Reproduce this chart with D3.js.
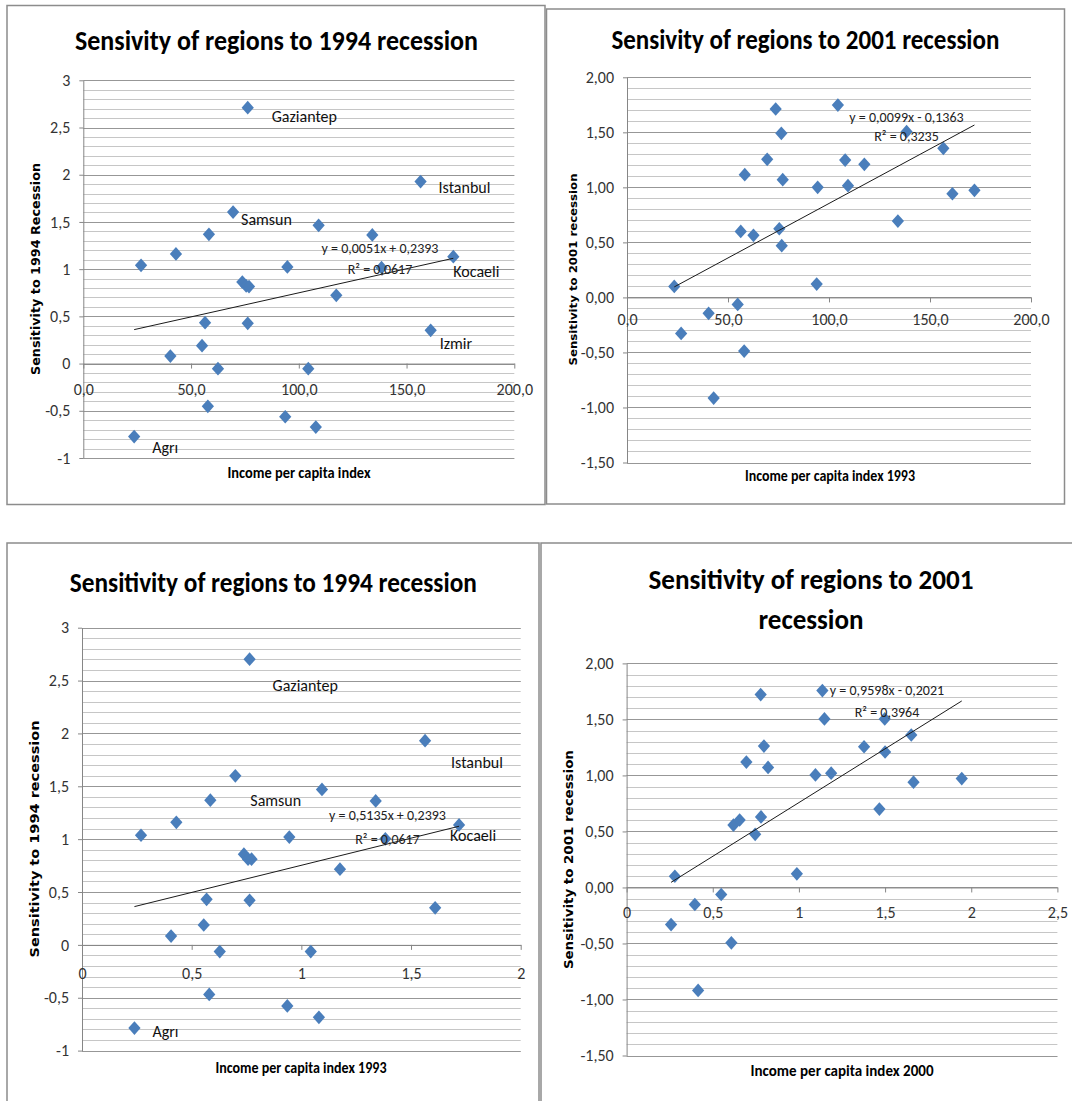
<!DOCTYPE html>
<html>
<head>
<meta charset="utf-8">
<title>Sensivity of regions to 1994 and 2001 recessions</title>
<script src="https://cdn.jsdelivr.net/npm/d3@7"></script>
<style>
  body { margin: 0; background: #fff; }
  text { font-family: Carlito, "Liberation Sans Narrow", "Open Sans", sans-serif; }
  .vt { font-family: "DejaVu Sans", Verdana, sans-serif; font-weight: bold; }
</style>
</head>
<body>
<script>
// ---- data ----
// top left: 1994 sensitivity vs income per capita index (0-200)
var incomeA = [76.3, 156.5, 69.5, 109.2, 134.1, 58.3, 43.0, 26.8, 171.7, 94.7, 138.4, 73.8, 75.6,
               76.9, 117.4, 56.5, 76.3, 161.2, 55.1, 40.4, 62.5, 104.4, 57.8, 93.7, 107.9, 23.6];
var sensA = [2.71, 1.927, 1.605, 1.464, 1.362, 1.369, 1.161, 1.041, 1.132, 1.023, 1.016, 0.864, 0.822,
             0.815, 0.723, 0.433, 0.426, 0.352, 0.19, 0.08, -0.054, -0.054, -0.453, -0.563, -0.672, -0.773];
// top right: 2001 sensitivity vs income per capita index 1993
var incomeB = [73.6, 104.4, 76.4, 69.4, 108.0, 117.5, 138.4, 156.6, 58.3, 77.1, 94.4, 109.4, 161.1,
               172.0, 134.1, 56.3, 62.6, 75.4, 76.6, 23.4, 93.9, 54.8, 40.4, 26.8, 58.0, 42.9];
var sensB = [1.712, 1.748, 1.491, 1.255, 1.248, 1.209, 1.506, 1.355, 1.115, 1.070, 1.0, 1.015, 0.942,
             0.973, 0.694, 0.600, 0.564, 0.624, 0.470, 0.100, 0.121, -0.064, -0.145, -0.327, -0.488, -0.915];
// bottom left: 1994 sensitivity vs income per capita index 1993 (ratio)
var incomeC = [0.764, 1.564, 0.699, 1.094, 1.339, 0.585, 0.430, 0.269, 1.719, 0.945, 1.383, 0.738, 0.757,
               0.773, 1.176, 0.568, 0.764, 1.610, 0.555, 0.406, 0.628, 1.043, 0.580, 0.936, 1.080, 0.239];
var sensC = [2.702, 1.931, 1.599, 1.470, 1.362, 1.369, 1.159, 1.037, 1.135, 1.020, 1.003, 0.858, 0.811,
             0.811, 0.716, 0.431, 0.421, 0.350, 0.188, 0.083, -0.063, -0.063, -0.469, -0.577, -0.685, -0.787];
// bottom right: 2001 sensitivity vs income per capita index 2000 (ratio)
var incomeD = [0.778, 1.136, 1.148, 1.498, 0.797, 1.378, 1.652, 1.5, 0.695, 0.821, 1.096, 1.187, 1.665,
               1.945, 1.467, 0.620, 0.656, 0.780, 0.746, 0.280, 0.988, 0.549, 0.396, 0.258, 0.608, 0.415];
var sensD = [1.722, 1.757, 1.504, 1.504, 1.262, 1.256, 1.361, 1.209, 1.119, 1.071, 1.004, 1.020, 0.940,
             0.972, 0.700, 0.557, 0.602, 0.630, 0.474, 0.100, 0.122, -0.063, -0.152, -0.331, -0.494, -0.919];

// region labels: name + index of the point it belongs to
var labelsA = [["Gaziantep", 0], ["Istanbul", 1], ["Samsun", 2], ["Kocaeli", 8], ["Izmir", 17], ["Agrı", 25]];
var labelsC = [["Gaziantep", 0], ["Istanbul", 1], ["Samsun", 2], ["Kocaeli", 8], ["Agrı", 25]];

// trendlines as printed on the charts
var trendSlope = [0.0051, 0.0099, 0.5135, 0.9598];
var trendIntercept = [0.2393, -0.1363, 0.2393, -0.2021];
var trendEq = ["y = 0,0051x + 0,2393", "y = 0,0099x - 0,1363", "y = 0,5135x + 0,2393", "y = 0,9598x - 0,2021"];
var trendR2 = ["R² = 0,0617", "R² = 0,3235", "R² = 0,0617", "R² = 0,3964"];

// ticks
var yTicks94 = [-1, -0.5, 0, 0.5, 1, 1.5, 2, 2.5, 3];
var yTicks01 = [-1.5, -1, -0.5, 0, 0.5, 1, 1.5, 2];
var xTicksIdx = [0, 50, 100, 150, 200];
var xTicks2 = [0, 0.5, 1, 1.5, 2];
var xTicks25 = [0, 0.5, 1, 1.5, 2, 2.5];

var titles = [["Sensivity of regions to 1994 recession"], ["Sensivity of regions to 2001 recession"],
              ["Sensitivity of regions to 1994 recession"], ["Sensitivity of regions to 2001", "recession"]];
var yTitles = ["Sensitivity to 1994 Recession", "Sensitivity to 2001 recession",
               "Sensitivity to 1994 recession", "Sensitivity to 2001 recession"];
var xTitles = ["Income per capita index", "Income per capita index 1993",
               "Income per capita index 1993", "Income per capita index 2000"];

var comma = function(d) { return String(d).replace(".", ","); };
var fix1 = function(d) { return d.toFixed(1).replace(".", ","); };
var fix2 = function(d) { return d.toFixed(2).replace(".", ","); };

// layout of each panel (pixels)
var panels = [
  { xs: incomeA, ys: sensA, labels: labelsA, xDom: [0, 200], yDom: [-1, 3], xT: xTicksIdx, yT: yTicks94, xF: fix1, yF: comma,
    box: [7, 5.5, 538, 499], px: [83.3, 514.3], py: [458, 80.3], xLabY: 389,
    title: [276.5, 50, [403]], yt: [35.5, 269, 212, 12], xt: [299, 473, 143],
    eq: [380, 248.5, 269.5], off: {Gaziantep: [24, 9], Istanbul: [18, 6], Samsun: [8, 7], Kocaeli: [0, 15], Izmir: [9, 13], "Agrı": [18, 10.5]} },
  { xs: incomeB, ys: sensB, labels: [], xDom: [0, 200], yDom: [-1.5, 2], xT: xTicksIdx, yT: yTicks01, xF: fix1, yF: fix2,
    box: [546.5, 9, 518, 495], px: [627, 1031], py: [462.5, 77.3], xLabY: 319,
    title: [805.4, 49.3, [388]], yt: [573.6, 269.5, 192, 11], xt: [830, 476, 170],
    eq: [906.5, 116.7, 136], off: {} },
  { xs: incomeC, ys: sensC, labels: labelsC, xDom: [0, 2], yDom: [-1, 3], xT: xTicks2, yT: yTicks94, xF: comma, yF: comma,
    box: [7, 543, 532, 570], px: [82, 520.7], py: [1050.6, 627.7], xLabY: 973,
    title: [273.3, 592, [407]], yt: [34.8, 839, 237, 13], xt: [301, 1068, 171],
    eq: [387.5, 815.5, 838.7], off: {Gaziantep: [23, 26], Istanbul: [26, 22], Samsun: [15, 25], Kocaeli: [-9, 11], "Agrı": [18, 3]} },
  { xs: incomeD, ys: sensD, labels: [], xDom: [0, 2.5], yDom: [-1.5, 2], xT: xTicks25, yT: yTicks01, xF: comma, yF: fix2,
    box: [541, 543, 540, 570], px: [626.6, 1057.4], py: [1055.5, 663.4], xLabY: 912,
    title: [811, 589.4, [325, 105]], yt: [568.8, 859.6, 219, 12], xt: [842, 1071, 183],
    eq: [887, 690.3, 712.5], off: {} }
];

// Excel style diamond marker (slightly taller than wide)
var excelDiamond = {
  draw: function(ctx, size) {
    var w = Math.sqrt(size) / 2, h = w * 1.12;
    ctx.moveTo(0, -h); ctx.lineTo(w, 0); ctx.lineTo(0, h); ctx.lineTo(-w, 0); ctx.closePath();
  }
};

var svg = d3.select("body").append("svg")
  .attr("width", 1072).attr("height", 1101);

panels.forEach(function(p, i) {
  var g = svg.append("g");
  var x = d3.scaleLinear().domain(p.xDom).range(p.px);
  var y = d3.scaleLinear().domain(p.yDom).range(p.py);

  // frame
  g.append("rect")
    .attr("x", p.box[0]).attr("y", p.box[1]).attr("width", p.box[2]).attr("height", p.box[3])
    .attr("fill", "#fff").attr("stroke", "#8c8c8c").attr("stroke-width", 1.5);

  // minor gridlines every 0.1
  var minor = y.ticks(Math.round((p.yDom[1] - p.yDom[0]) * 10));
  g.selectAll(".minor").data(minor).enter().append("line")
    .attr("x1", p.px[0]).attr("x2", p.px[1])
    .attr("y1", function(d) { return Math.round(y(d)) + 0.5; })
    .attr("y2", function(d) { return Math.round(y(d)) + 0.5; })
    .attr("stroke", "#c6c6c6");
  g.selectAll(".major").data(p.yT).enter().append("line")
    .attr("x1", p.px[0]).attr("x2", p.px[1])
    .attr("y1", function(d) { return Math.round(y(d)) + 0.5; })
    .attr("y2", function(d) { return Math.round(y(d)) + 0.5; })
    .attr("stroke", "#979797");

  // y axis
  var ya = g.append("g")
    .attr("transform", "translate(" + p.px[0] + ",0)")
    .call(d3.axisLeft(y).tickValues(p.yT).tickFormat(p.yF).tickSize(4).tickSizeOuter(0).tickPadding(9));
  // x axis at y = 0
  var xa = g.append("g")
    .attr("transform", "translate(0," + y(0) + ")")
    .call(d3.axisBottom(x).tickValues(p.xT).tickFormat(p.xF).tickSize(5).tickSizeOuter(0));
  xa.selectAll("text").attr("y", p.xLabY - y(0)).attr("dy", "0.35em");
  [ya, xa].forEach(function(a) {
    a.select(".domain").attr("stroke", "#868686");
    a.selectAll(".tick line").attr("stroke", "#868686");
    a.selectAll("text").attr("fill", "#333").style("font-size", "16px");
  });

  // points
  var pts = p.xs.map(function(v, k) { return [v, p.ys[k]]; });
  g.selectAll(".pt").data(pts).enter().append("path")
    .attr("d", d3.symbol().type(excelDiamond).size(150))
    .attr("transform", function(d) { return "translate(" + x(d[0]) + "," + y(d[1]) + ")"; })
    .attr("fill", "#4a7ebb");

  // linear trendline across the data range
  var ext = d3.extent(p.xs);
  g.append("line")
    .attr("x1", x(ext[0])).attr("y1", y(trendSlope[i] * ext[0] + trendIntercept[i]))
    .attr("x2", x(ext[1])).attr("y2", y(trendSlope[i] * ext[1] + trendIntercept[i]))
    .attr("stroke", "#1a1a1a").attr("stroke-width", 1);
  g.append("text").attr("x", p.eq[0]).attr("y", p.eq[1]).attr("dy", "0.35em")
    .attr("text-anchor", "middle").style("font-size", "14px").attr("fill", "#222").text(trendEq[i]);
  g.append("text").attr("x", p.eq[0]).attr("y", p.eq[2]).attr("dy", "0.35em")
    .attr("text-anchor", "middle").style("font-size", "14px").attr("fill", "#222").text(trendR2[i]);

  // region labels
  p.labels.forEach(function(l) {
    var o = p.off[l[0]], k = l[1];
    g.append("text")
      .attr("x", x(p.xs[k]) + o[0]).attr("y", y(p.ys[k]) + o[1]).attr("dy", "0.35em")
      .style("font-size", "16px").attr("fill", "#111").text(l[0]);
  });

  // chart title
  titles[i].forEach(function(t, j) {
    g.append("text")
      .attr("x", p.title[0]).attr("y", p.title[1] + j * 39.3)
      .attr("text-anchor", "middle")
      .attr("textLength", p.title[2][j]).attr("lengthAdjust", "spacingAndGlyphs")
      .style("font-size", "29px").style("font-weight", "bold").attr("fill", "#000").text(t);
  });

  // axis titles
  g.append("text").attr("class", "vt")
    .attr("transform", "translate(" + p.yt[0] + "," + p.yt[1] + ") rotate(-90)")
    .attr("text-anchor", "middle").attr("dy", "0.35em")
    .attr("textLength", p.yt[2]).attr("lengthAdjust", "spacingAndGlyphs")
    .style("font-size", p.yt[3] + "px").attr("fill", "#000").text(yTitles[i]);
  g.append("text")
    .attr("x", p.xt[0]).attr("y", p.xt[1]).attr("dy", "0.35em").attr("text-anchor", "middle")
    .attr("textLength", p.xt[2]).attr("lengthAdjust", "spacingAndGlyphs")
    .style("font-size", "15px").style("font-weight", "bold").attr("fill", "#000").text(xTitles[i]);
});
</script>
</body>
</html>
